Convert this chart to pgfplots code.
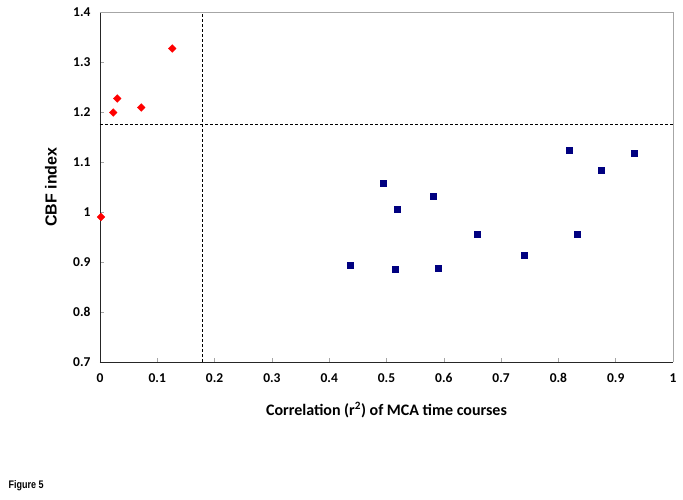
\documentclass[border=0pt]{standalone}
\usepackage{pgfplots}
\pgfplotsset{compat=1.18}
\usepackage{fontspec}
\setmainfont{Carlito}
\newfontfamily\arialfont{Liberation Sans}
\newfontfamily\narrowfont[FakeStretch=0.82]{Liberation Sans}
\definecolor{navyblue}{RGB}{0,0,128}
\begin{document}
\begin{tikzpicture}
\path[use as bounding box] (-100bp,-138bp) rectangle (583bp,362bp);
\begin{axis}[at={(0,0)}, anchor=south west, scale only axis,
  width=573bp, height=350bp,
  xmin=0, xmax=1, ymin=0.7, ymax=1.4,
  xtick={0,0.1,0.2,0.3,0.4,0.5,0.6,0.7,0.8,0.9,1},
  ytick={0.7,0.8,0.9,1,1.1,1.2,1.3,1.4},
  axis x line*=bottom, axis y line*=left,
  axis line style={black!85, line width=0.8bp},
  tick style={gray!70, line width=0.5bp},
  major tick length=4bp, tick align=inside,
  /pgf/number format/assume math mode=true,
  tick label style={font=\fontsize{13.5bp}{15bp}\selectfont\bfseries},
  xticklabel style={yshift=-8bp},
  yticklabel style={xshift=-6bp},
  xlabel={Correlation (r\textsuperscript{2}) of MCA time courses},
  x label style={at={(axis description cs:0.5,-0.137)}, anchor=center,
    font=\fontsize{16bp}{18bp}\selectfont\bfseries},
  ylabel={CBF index},
  y label style={at={(axis description cs:-0.0855,0.5)}, anchor=center,
    font=\arialfont\fontsize{16bp}{18bp}\selectfont\bfseries},
  clip=false,
]
\draw[gray!70, line width=0.6bp] (rel axis cs:0,1) -- (rel axis cs:1,1) -- (rel axis cs:1,0);
\addplot[black, line width=0.6bp, dash pattern=on 3bp off 2bp] coordinates {(0.1786,0.7) (0.1786,1.4)};
\addplot[black, line width=0.6bp, dash pattern=on 3bp off 2bp] coordinates {(0,1.176) (1,1.176)};
\addplot[only marks, mark=square*, mark size=2.7bp, mark options={rotate=45, fill=red, draw=red}]
coordinates {
(0.0017,0.990) (0.023,1.199) (0.030,1.227) (0.072,1.209) (0.126,1.327)
};
\addplot[only marks, mark=square*, mark size=3bp, mark options={fill=navyblue, draw=navyblue}]
coordinates {
(0.436,0.894) (0.494,1.057) (0.515,0.886) (0.519,1.005) (0.581,1.031)
(0.591,0.887) (0.659,0.955) (0.741,0.914) (0.818,1.123) (0.832,0.955)
(0.874,1.083) (0.932,1.118)
};
\end{axis}
\node[anchor=west, font=\narrowfont\fontsize{11bp}{13bp}\selectfont\bfseries] at (-95bp,-124bp) {Figure 5};
\end{tikzpicture}
\end{document}
